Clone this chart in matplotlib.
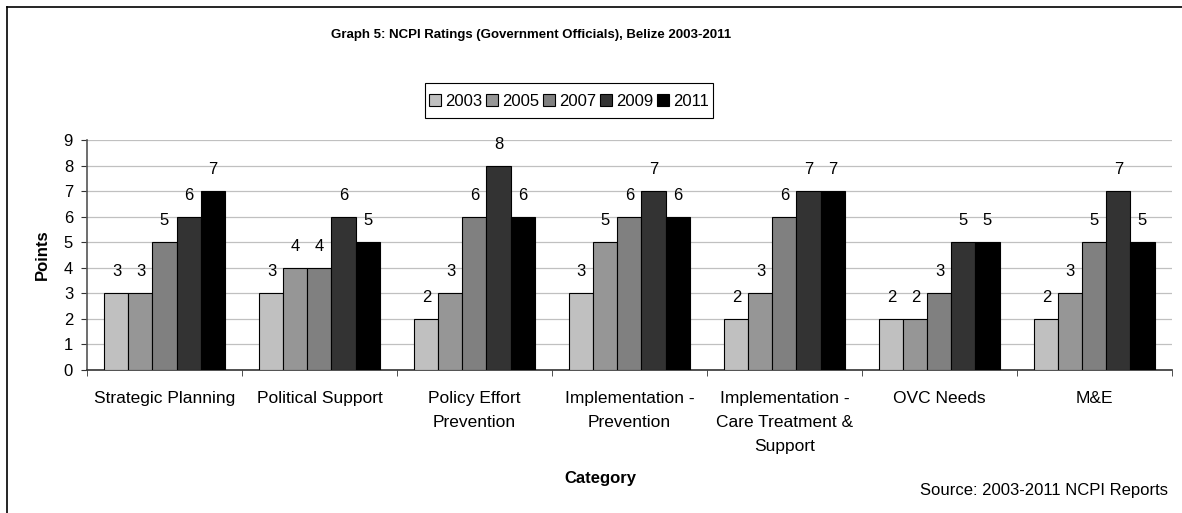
import matplotlib
matplotlib.use("Agg")
import matplotlib.pyplot as plt
import numpy as np
from matplotlib.lines import Line2D
from matplotlib.patches import Rectangle

plt.rcParams['font.family'] = ['Liberation Sans', 'DejaVu Sans']

categories = ["Strategic Planning", "Political Support", "Policy Effort\nPrevention",
              "Implementation -\nPrevention", "Implementation -\nCare Treatment &\nSupport",
              "OVC Needs", "M&E"]
years = ["2003", "2005", "2007", "2009", "2011"]
v2003 = [3, 3, 2, 3, 2, 2, 2]
v2005 = [3, 4, 3, 5, 3, 2, 3]
v2007 = [5, 4, 6, 6, 6, 3, 5]
v2009 = [6, 6, 8, 7, 7, 5, 7]
v2011 = [7, 5, 6, 6, 7, 5, 5]
colors = ["#C0C0C0", "#969696", "#808080", "#333333", "#000000"]

series = [v2003, v2005, v2007, v2009, v2011]

fig = plt.figure(figsize=(11.82, 5.13), dpi=100)
ax = fig.add_axes([0.0736, 0.2788, 0.9179, 0.4483])

x = np.arange(len(categories))
w = 0.155
for i, (vals, col, yr) in enumerate(zip(series, colors, years)):
    pos = x + (i - 2) * w
    bars = ax.bar(pos, vals, w, color=col, edgecolor="black", linewidth=0.8, label=yr, zorder=3)
    for b, v in zip(bars, vals):
        ax.annotate(str(v), (b.get_x() + b.get_width() / 2, v), xytext=(0, 15.5),
                    textcoords="offset points", ha="center", va="center", fontsize=12)

ax.set_xlim(-0.5, len(categories) - 0.5)
ax.set_ylim(0, 9)
ax.set_yticks(range(10))
ax.yaxis.grid(True, color="#C0C0C0", linewidth=0.9, zorder=0)
ax.axhline(9, color="#808080", linewidth=1.2, zorder=1)

ax.set_xticks(x)
ax.set_xticklabels(categories, fontsize=12.5, linespacing=1.75)
ax.set_xticks(np.arange(-0.5, len(categories)), minor=True)
ax.tick_params(axis="x", which="major", length=0, pad=15)
ax.tick_params(axis="x", which="minor", length=4, color="#333333")
ax.tick_params(axis="y", labelsize=12, length=4, pad=6, color="#333333")

for s in ["top", "right"]:
    ax.spines[s].set_visible(False)
ax.spines["left"].set_color("#555555")
ax.spines["bottom"].set_color("#333333")
ax.spines["left"].set_linewidth(1.2)
ax.spines["bottom"].set_linewidth(1.2)

ax.set_ylabel("Points", fontsize=12, fontweight="bold", labelpad=10)

fig.text(531 / 1182, 1 - 35 / 513, "Graph 5: NCPI Ratings (Government Officials), Belize 2003-2011",
         ha="center", va="center", fontsize=9.5, fontweight="bold")
fig.text(600 / 1182, 1 - 478 / 513, "Category", ha="center", va="center",
         fontsize=12, fontweight="bold")
fig.text(1168 / 1182, 1 - 490 / 513, "Source: 2003-2011 NCPI Reports", ha="right", va="center",
         fontsize=12)

leg = fig.legend(loc="center", bbox_to_anchor=(569 / 1182, 1 - 101 / 513), ncol=5, fontsize=12,
                 frameon=False, handlelength=0.7, handleheight=0.7, handletextpad=0.25,
                 columnspacing=0.25, borderpad=0, borderaxespad=0)
fig.add_artist(Rectangle((425 / 1182, 1 - 118 / 513), 288 / 1182, 35 / 513,
                         transform=fig.transFigure, fill=False, edgecolor="black", linewidth=0.8))

# outer chart border (only left and top visible in the crop)
fig.add_artist(Line2D([6.5 / 1182, 6.5 / 1182], [0, 1 - 6.5 / 513], color="black", linewidth=1.2))
fig.add_artist(Line2D([6.5 / 1182, 1], [1 - 6.5 / 513, 1 - 6.5 / 513], color="black", linewidth=1.2))

fig.savefig("out.png", dpi=100)
